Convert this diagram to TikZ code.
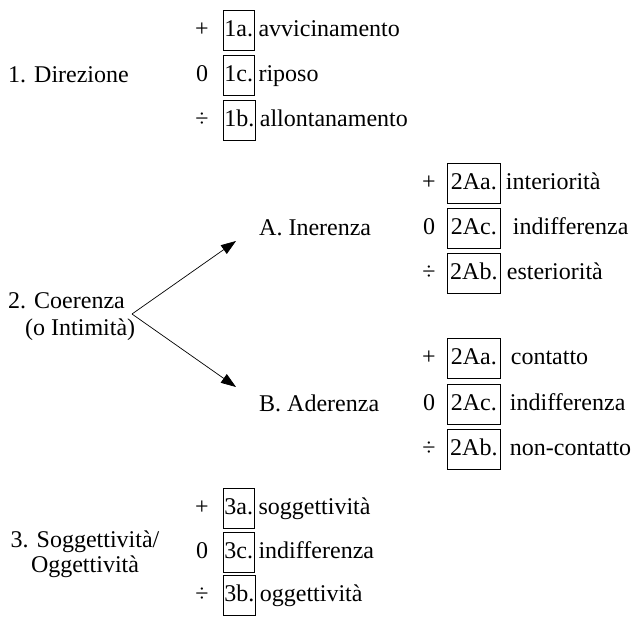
\documentclass[tikz,border=0pt]{standalone}
\usepackage{fontspec}
\setmainfont{Liberation Serif}
\usetikzlibrary{arrows.meta}
\begin{document}
\begin{tikzpicture}[x=1pt,y=-1pt,
  every node/.style={font=\fontsize{24}{28}\selectfont, inner sep=0pt, text height=16pt, text depth=4pt},
  sign/.style={anchor=center},
  codebox/.style={draw, line width=0.7pt, minimum height=40pt, minimum width=30pt, inner xsep=1pt, anchor=west},
  widebox/.style={codebox, minimum width=53pt},
  lbl/.style={anchor=west},
  two/.style={align=center, anchor=center},
  arr/.style={line width=0.7pt, -{Triangle[length=15pt,width=10.5pt]}}]
\useasboundingbox (0,0) rectangle (636,616);

% Group 1
\node[lbl] (dir) at (8,76) {1. Direzione};
\node[sign] (s1a) at (202,30) {+};
\node[sign] (s1c) at (202,75) {0};
\node[sign] (s1b) at (202,120) {÷};
\node[codebox] (b1a) at (223,30) {1a.};
\node[codebox] (b1c) at (223,75) {1c.};
\node[codebox] (b1b) at (223,120) {1b.};
\node[lbl] (l1a) at ([xshift=4pt]b1a.east) {avvicinamento};
\node[lbl] (l1c) at ([xshift=4pt]b1c.east) {riposo};
\node[lbl] (l1b) at ([xshift=4pt]b1b.east) {allontanamento};

% Group 2
\node[lbl] (coe) at (8,302) {2. Coerenza};
\node[lbl] (int) at (25,329) {(o Intimità)};
\coordinate (split) at (132,314);
\coordinate (tA) at (236,241);
\coordinate (tB) at (236,387);
\draw[arr] (split) -- (tA);
\draw[arr] (split) -- (tB);

\node[lbl] (inA) at (259,229) {A. Inerenza};
\node[sign] (sAa) at (429,183) {+};
\node[sign] (sAc) at (429,228) {0};
\node[sign] (sAb) at (429,273) {÷};
\node[widebox] (bAa) at (447,183) {2Aa.};
\node[widebox] (bAc) at (447,228) {2Ac.};
\node[widebox] (bAb) at (447,273) {2Ab.};
\node[lbl] (lAa) at ([xshift=5pt]bAa.east) {interiorità};
\node[lbl] (lAc) at ([xshift=12pt]bAc.east) {indifferenza};
\node[lbl] (lAb) at ([xshift=6pt]bAb.east) {esteriorità};

\node[lbl] (adB) at (259,405) {B. Aderenza};
\node[sign] (sBa) at (429,358) {+};
\node[sign] (sBc) at (429,404) {0};
\node[sign] (sBb) at (429,449) {÷};
\node[widebox] (bBa) at (447,358) {2Aa.};
\node[widebox] (bBc) at (447,404) {2Ac.};
\node[widebox] (bBb) at (447,449) {2Ab.};
\node[lbl] (lBa) at ([xshift=10pt]bBa.east) {contatto};
\node[lbl] (lBc) at ([xshift=9pt]bBc.east) {indifferenza};
\node[lbl] (lBb) at ([xshift=9pt]bBb.east) {non-contatto};

% Group 3
\node[two] (sog) at (85,541) {3. Soggettività/};
\node[two] (ogg) at (85,566) {Oggettività};
\node[sign] (s3a) at (202,508) {+};
\node[sign] (s3c) at (202,552) {0};
\node[sign] (s3b) at (202,595) {÷};
\node[codebox] (b3a) at (223,508) {3a.};
\node[codebox] (b3c) at (223,552) {3c.};
\node[codebox] (b3b) at (223,595) {3b.};
\node[lbl] (l3a) at ([xshift=4pt]b3a.east) {soggettività};
\node[lbl] (l3c) at ([xshift=4pt]b3c.east) {indifferenza};
\node[lbl] (l3b) at ([xshift=4pt]b3b.east) {oggettività};
\end{tikzpicture}
\end{document}
